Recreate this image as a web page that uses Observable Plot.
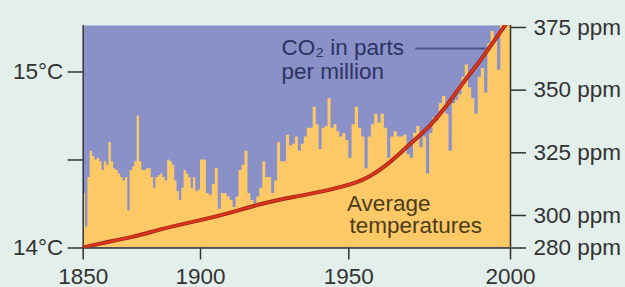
<!DOCTYPE html>
<html><head><meta charset="utf-8">
<script src="https://cdn.jsdelivr.net/npm/d3@7"></script>
<script src="https://cdn.jsdelivr.net/npm/@observablehq/plot@0.6"></script>
<style>html,body{margin:0;padding:0;background:#e3efea;overflow:hidden}</style>
</head><body><div id="chart"></div>
<script>
// Yearly average temperature (°C), 1850–1999
const startYear = 1850;
const temps = [
  14.31,14.12,14.40,14.55,14.52,14.50,14.51,14.49,14.44,14.49,
  14.47,14.60,14.49,14.45,14.44,14.42,14.40,14.38,14.40,14.21,
  14.44,14.46,14.49,14.75,14.49,14.44,14.44,14.45,14.45,14.40,
  14.34,14.40,14.41,14.42,14.40,14.38,14.50,14.49,14.47,14.38,
  14.32,14.27,14.34,14.44,14.42,14.40,14.34,14.40,14.32,14.33,
  14.50,14.50,14.31,14.30,14.36,14.45,14.22,14.31,14.31,14.29,
  14.27,14.23,14.29,14.44,14.47,14.55,14.31,14.27,14.25,14.29,
  14.34,14.49,14.40,14.40,14.31,14.38,14.60,14.49,14.49,14.64,
  14.58,14.59,14.63,14.55,14.59,14.63,14.68,14.68,14.80,14.70,
  14.56,14.68,14.69,14.85,14.68,14.70,14.66,14.63,14.65,14.61,
  14.51,14.70,14.80,14.68,14.63,14.45,14.63,14.70,14.76,14.71,
  14.76,14.68,14.51,14.63,14.66,14.63,14.63,14.64,14.53,14.51,
  14.65,14.69,14.57,14.63,14.42,14.65,14.74,14.72,14.82,14.86,
  14.76,14.55,14.82,14.84,14.87,14.97,15.04,14.91,14.85,14.76,
  14.97,15.02,14.88,15.16,15.23,15.18,15.01,15.30,15.30,15.30
];
// CO2 concentration (ppm)
const co2Years  = [1850, 1857, 1871, 1884, 1896, 1907, 1922, 1932, 1945, 1952, 1956, 1962, 1966, 1969, 1975, 1980, 1985, 1990, 1995, 1999];
const co2Values = [280.3, 282.8, 286.6, 292.0, 295.9, 300.0, 305.3, 307.5, 310.5, 313.0, 315.0, 320.3, 325.0, 328.6, 335.4, 343.2, 352.5, 360.5, 369.8, 377.0];

// Axis ticks
const xTicks = [1850, 1900, 1950, 2000];
const tempTicks = [14, 14.5, 15];
const tempLabelled = [14, 15];
const co2Ticks = [280, 300, 325, 350, 375];

// Labels
const co2Label = ["CO₂ in parts", "per million"];
const tempLabel = ["Average", "temperatures"];

// Colours
const colBg = "#e3efea", colBlue = "#8a91c9", colOrange = "#fdc866";

// The original time axis is non-uniform and the CO2 axis is broken below 300 ppm
const xWarp = d3.scaleLinear().domain(xTicks).range([0, 117.3, 265.6, 427.3]);
const co2ToY = d3.scaleLinear().domain([280, 300, 375]).range([14, 14.1847, 15.2528]);

const tempData = temps.map((t, i) => ({year: startYear + i, temp: t}));
tempData.push({year: 2000, temp: temps[temps.length - 1]});
const co2Data = co2Years.map((y, i) => ({year: y, ppm: co2Values[i]}));

const X = d => xWarp(d.year);
const font = 22.5;
const chart = Plot.plot({
  width: 625, height: 287,
  marginTop: 25, marginBottom: 39.5, marginLeft: 82.7, marginRight: 115,
  style: {background: colBg, fontFamily: "'Liberation Sans', Arial, sans-serif", fontSize: font + "px", color: "#333"},
  x: {domain: [0, 427.3], axis: null},
  y: {domain: [14, 15.264], axis: null},
  marks: [
    Plot.frame({fill: colBlue, stroke: null}),
    Plot.areaY(tempData, {x: X, y1: 14, y2: "temp", curve: "step-after", fill: colOrange, clip: true}),
    Plot.ruleX([1850, 2000], {x: d => xWarp(d), stroke: "#333", strokeWidth: 1.5}),
    Plot.ruleY([14], {stroke: "#333", strokeWidth: 1.5}),
    Plot.line(co2Data, {x: X, y: d => co2ToY(d.ppm), stroke: "#9c2a14", strokeWidth: 4, curve: "basis", clip: true}),
    Plot.line(co2Data, {x: X, y: d => co2ToY(d.ppm), stroke: "#e0321c", strokeWidth: 2.2, curve: "basis", clip: true}),
    Plot.text([co2Label[0]], {x: xWarp(1927.3), y: 15.094, text: d => d, textAnchor: "start", lineAnchor: "bottom", fill: "#2e3360", fontSize: font}),
    Plot.text([co2Label[1]], {x: xWarp(1927.3), y: 14.962, text: d => d, textAnchor: "start", lineAnchor: "bottom", fill: "#2e3360", fontSize: font}),
    Plot.link([0], {x1: xWarp(1970.6), x2: xWarp(1992.3), y1: 15.134, y2: 15.134, stroke: "#4d5488", strokeWidth: 2}),
    Plot.text([tempLabel[0]], {x: xWarp(1949.4), y: 14.213, text: d => d, textAnchor: "start", lineAnchor: "bottom", fill: "#4a3c18", fontSize: font}),
    Plot.text([tempLabel[1]], {x: xWarp(1950.2), y: 14.085, text: d => d, textAnchor: "start", lineAnchor: "bottom", fill: "#4a3c18", fontSize: font}),
    Plot.axisX(xTicks.map(v => xWarp(v)), {tickSize: 12, tickPadding: 8, label: null, fontSize: font, strokeWidth: 1.5,
      tickFormat: d => String(Math.round(xWarp.invert(d)))}),
    Plot.axisY(tempTicks, {anchor: "left", tickSize: 15, tickPadding: 5, label: null, fontSize: font, strokeWidth: 1.5,
      tickFormat: d => tempLabelled.includes(d) ? d + "°C" : ""}),
    Plot.axisY(co2Ticks.map(v => co2ToY(v)), {anchor: "right", tickSize: 15, tickPadding: 8, label: null, fontSize: font, strokeWidth: 1.5,
      tickFormat: d => Math.round(co2ToY.invert(d)) + " ppm"})
  ]
});
document.getElementById("chart").appendChild(chart);
</script></body></html>
